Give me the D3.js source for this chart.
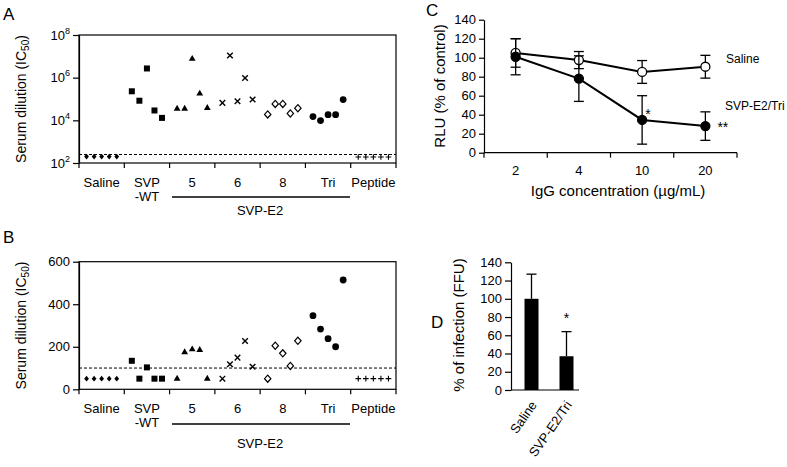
<!DOCTYPE html>
<html>
<head>
<meta charset="utf-8">
<script src="https://cdn.jsdelivr.net/npm/d3@7"></script>
<style>
  body { margin: 0; background: #fff; }
  text { font-family: "Liberation Sans", Arial, sans-serif; fill: #000; }
</style>
</head>
<body>
<div id="chart"></div>
<script>
// ---- data ----
const groups = ["Saline", "SVP-WT", "5", "6", "8", "Tri", "Peptide"];
const groupMarkers = ["diamondSmall", "square", "triangle", "times", "diamondOpen", "circle", "plus"];

// panel A (log scale IC50)
const aSaline = [200, 200, 200, 200, 200];
const aSvpWt = [230000, 83000, 2700000, 29000, 13000];
const aE2n5 = [35000, 35000, 7600000, 180000, 38000];
const aE2n6 = [66000, 11000000, 78000, 970000, 94000];
const aE2n8 = [19000, 59000, 59000, 21000, 37000];
const aE2Tri = [15000, 9700, 18500, 18500, 94000];
const aPeptide = [190, 190, 190, 190, 190];
const aCutoff = 250;
const aTicks = [2, 4, 6, 8]; // exponents

// panel B (linear IC50)
const bSaline = [50, 50, 50, 50, 50];
const bSvpWt = [134, 50, 103, 50, 50];
const bE2n5 = [50, 174, 188, 185, 50];
const bE2n6 = [50, 118, 149, 227, 106];
const bE2n8 = [50, 205, 169, 110, 228];
const bE2Tri = [346, 283, 238, 200, 514];
const bPeptide = [50, 50, 50, 50, 50];
const bCutoff = 100;
const bTicks = [0, 200, 400, 600];

// panel C
const concLabels = ["2", "4", "10", "20"];
const salineMean = [105, 97.5, 85, 90.5];
const salineErr = [15, 9, 12, 12];
const triMean = [101, 78, 34.5, 28];
const triErr = [19, 24, 25.5, 15];
const triStars = ["", "", "*", "**"];

// panel D
const infCats = ["Saline", "SVP-E2/Tri"];
const infMean = [100, 37];
const infErr = [27, 27];
const infStars = ["", "*"];

const W = 787, H = 467;
const svg = d3.select("#chart").append("svg")
  .attr("width", W).attr("height", H)
  .style("background", "#fff");

// marker drawing helper
function drawMarker(g, type, x, y) {
  const t = `translate(${x},${y})`;
  if (type === "square") {
    g.append("path").attr("d", d3.symbol(d3.symbolSquare, 36)()).attr("transform", t).attr("fill", "#000");
  } else if (type === "triangle") {
    g.append("path").attr("d", d3.symbol(d3.symbolTriangle, 20)()).attr("transform", t).attr("fill", "#000");
  } else if (type === "circle") {
    g.append("circle").attr("cx", x).attr("cy", y).attr("r", 3.4).attr("fill", "#000");
  } else if (type === "times") {
    g.append("path").attr("d", d3.symbol(d3.symbolTimes, 22)()).attr("transform", t)
      .attr("fill", "none").attr("stroke", "#000").attr("stroke-width", 1.4);
  } else if (type === "diamondOpen") {
    g.append("path").attr("d", "M0,-3.6L3.2,0L0,3.6L-3.2,0Z").attr("transform", t)
      .attr("fill", "#fff").attr("stroke", "#000").attr("stroke-width", 1.2);
  } else if (type === "diamondSmall") {
    g.append("path").attr("d", "M0,-2.8L2.4,0L0,2.8L-2.4,0Z").attr("transform", t).attr("fill", "#000");
  } else if (type === "plus") {
    g.append("path").attr("d", d3.symbol(d3.symbolPlus, 12)()).attr("transform", t)
      .attr("fill", "none").attr("stroke", "#000").attr("stroke-width", 1.1);
  }
}

// scatter panel (A and B)
function scatterPanel(opt) {
  const g = svg.append("g");
  const x = d3.scaleBand().domain(groups).range([79, 396]);
  const y = opt.y;
  const bw = x.bandwidth();
  const top = y.range()[1], bottom = y.range()[0];

  // frame
  g.append("rect").attr("x", 79).attr("y", top).attr("width", 396 - 79).attr("height", bottom - top)
    .attr("fill", "none").attr("stroke", "#000").attr("stroke-width", 1.2);

  // y axis
  const ay = g.append("g").attr("transform", "translate(79,0)")
    .call(d3.axisLeft(y).tickValues(opt.tickValues).tickSize(6).tickSizeOuter(0).tickFormat(""));
  ay.select(".domain").attr("stroke-width", 1.2);
  ay.selectAll(".tick line").attr("stroke-width", 1.2);
  opt.tickValues.forEach(v => {
    const t = g.append("text").attr("x", 70).attr("y", y(v) + 4.5)
      .attr("text-anchor", "end").attr("font-size", 13);
    if (opt.log) {
      t.append("tspan").text("10");
      t.append("tspan").attr("dy", -6).attr("font-size", 9).text(Math.round(Math.log10(v)));
    } else {
      t.text(v);
    }
  });

  // x group ticks
  d3.range(groups.length + 1).forEach(k => {
    g.append("line").attr("x1", 79 + k * bw).attr("x2", 79 + k * bw)
      .attr("y1", bottom).attr("y2", bottom + 5).attr("stroke", "#000").attr("stroke-width", 1.2);
  });

  // cutoff
  g.append("line").attr("x1", 79).attr("x2", 396).attr("y1", y(opt.cutoff)).attr("y2", y(opt.cutoff))
    .attr("stroke", "#000").attr("stroke-width", 1).attr("stroke-dasharray", "3,2");

  // points
  opt.series.forEach((vals, gi) => {
    vals.forEach((v, i) => {
      drawMarker(g, groupMarkers[gi], x(groups[gi]) + (i + 1) * bw / 6, y(v));
    });
  });

  // group labels
  const ly = bottom + 24;
  groups.forEach(name => {
    const cx = x(name) + bw / 2;
    if (name === "SVP-WT") {
      g.append("text").attr("x", cx).attr("y", ly).attr("text-anchor", "middle").attr("font-size", 13).text("SVP");
      g.append("text").attr("x", cx).attr("y", ly + 13.5).attr("text-anchor", "middle").attr("font-size", 13).text("-WT");
    } else {
      g.append("text").attr("x", cx).attr("y", ly).attr("text-anchor", "middle").attr("font-size", 13).text(name);
    }
  });
  g.append("line").attr("x1", 172).attr("x2", 350).attr("y1", opt.lineY).attr("y2", opt.lineY)
    .attr("stroke", "#000").attr("stroke-width", 1.4);
  g.append("text").attr("x", 260).attr("y", opt.e2Y).attr("text-anchor", "middle").attr("font-size", 13).text("SVP-E2");

  // y label
  const yl = g.append("text").attr("transform", `translate(26,${(top + bottom) / 2}) rotate(-90)`)
    .attr("text-anchor", "middle").attr("font-size", 14);
  yl.append("tspan").text("Serum dilution (IC");
  yl.append("tspan").attr("font-size", 10).attr("dy", 3).text("50");
  yl.append("tspan").attr("dy", -3).text(")");

  // panel letter
  svg.append("text").attr("x", 3).attr("y", opt.letterY).attr("font-size", 17).text(opt.letter);
}

scatterPanel({
  letter: "A", letterY: 20, log: true,
  y: d3.scaleLog().domain([1e2, 1e8]).range([163, 35]),
  tickValues: aTicks.map(e => Math.pow(10, e)),
  cutoff: aCutoff,
  series: [aSaline, aSvpWt, aE2n5, aE2n6, aE2n8, aE2Tri, aPeptide],
  lineY: 197, e2Y: 215
});

scatterPanel({
  letter: "B", letterY: 243, log: false,
  y: d3.scaleLinear().domain([0, 600]).range([389.3, 261.7]),
  tickValues: bTicks,
  cutoff: bCutoff,
  series: [bSaline, bSvpWt, bE2n5, bE2n6, bE2n8, bE2Tri, bPeptide],
  lineY: 424, e2Y: 448
});

// ---- panel C ----
(function () {
  const g = svg.append("g");
  const x = d3.scaleBand().domain(concLabels).range([484, 737]);
  const y = d3.scaleLinear().domain([0, 140]).range([152.7, 19.7]);
  const cx = d => x(d) + x.bandwidth() / 2;

  const ay = g.append("g").attr("transform", "translate(484,0)")
    .call(d3.axisLeft(y).tickValues(d3.range(0, 141, 20)).tickSize(5).tickSizeOuter(0));
  ay.selectAll("text").attr("font-size", 13).attr("font-family", "Liberation Sans, Arial, sans-serif").attr("x", -8);
  ay.select(".domain").attr("stroke-width", 1.2);
  ay.selectAll(".tick line").attr("stroke-width", 1.2);

  g.append("line").attr("x1", 484).attr("x2", 737).attr("y1", y(0)).attr("y2", y(0))
    .attr("stroke", "#000").attr("stroke-width", 1.2);
  d3.range(concLabels.length + 1).forEach(k => {
    const xx = 484 + k * x.bandwidth();
    g.append("line").attr("x1", xx).attr("x2", xx).attr("y1", y(0)).attr("y2", y(0) + 5)
      .attr("stroke", "#000").attr("stroke-width", 1.2);
  });
  concLabels.forEach(c => {
    g.append("text").attr("x", cx(c)).attr("y", 174.5).attr("text-anchor", "middle").attr("font-size", 13).text(c);
  });

  function series(mean, err, fill) {
    mean.forEach((m, i) => {
      const xx = cx(concLabels[i]);
      g.append("line").attr("x1", xx).attr("x2", xx).attr("y1", y(m - err[i])).attr("y2", y(m + err[i]))
        .attr("stroke", "#000").attr("stroke-width", 1.3);
      [m - err[i], m + err[i]].forEach(v => {
        g.append("line").attr("x1", xx - 5).attr("x2", xx + 5).attr("y1", y(v)).attr("y2", y(v))
          .attr("stroke", "#000").attr("stroke-width", 1.3);
      });
    });
    g.append("path").datum(mean)
      .attr("d", d3.line().x((d, i) => cx(concLabels[i])).y(d => y(d)))
      .attr("fill", "none").attr("stroke", "#000").attr("stroke-width", 2);
    mean.forEach((m, i) => {
      g.append("circle").attr("cx", cx(concLabels[i])).attr("cy", y(m)).attr("r", 4.5)
        .attr("fill", fill).attr("stroke", "#000").attr("stroke-width", 1.3);
    });
  }
  series(salineMean, salineErr, "#fff");
  series(triMean, triErr, "#000");

  triStars.forEach((s, i) => {
    if (!s) return;
    const xx = cx(concLabels[i]);
    if (s === "*") {
      g.append("text").attr("x", xx + 3).attr("y", y(triMean[i]) - 1).attr("font-size", 14).text(s);
    } else {
      g.append("text").attr("x", xx + 12).attr("y", y(triMean[i]) + 6).attr("font-size", 14).text(s);
    }
  });

  g.append("text").attr("x", 726).attr("y", 63).attr("font-size", 12).text("Saline");
  g.append("text").attr("x", 725).attr("y", 110).attr("font-size", 12).text("SVP-E2/Tri");

  g.append("text").attr("x", 618).attr("y", 196).attr("text-anchor", "middle").attr("font-size", 15)
    .text("IgG concentration (µg/mL)");
  g.append("text").attr("transform", `translate(445,86) rotate(-90)`).attr("text-anchor", "middle")
    .attr("font-size", 15).text("RLU (% of control)");
  svg.append("text").attr("x", 426).attr("y", 16).attr("font-size", 17).text("C");
})();

// ---- panel D ----
(function () {
  const g = svg.append("g");
  const x = d3.scaleBand().domain(infCats).range([524.5, 573.5]).paddingInner(0.6);
  const y = d3.scaleLinear().domain([0, 140]).range([390, 262.3]);

  const ay = g.append("g").attr("transform", "translate(511,0)")
    .call(d3.axisLeft(y).tickValues(d3.range(0, 141, 20)).tickSize(6).tickSizeOuter(0));
  ay.selectAll("text").attr("font-size", 13).attr("font-family", "Liberation Sans, Arial, sans-serif").attr("x", -9);
  ay.select(".domain").attr("stroke-width", 1.2);
  ay.selectAll(".tick line").attr("stroke-width", 1.2);

  infCats.forEach((c, i) => {
    const xc = x(c) + x.bandwidth() / 2;
    g.append("line").attr("x1", xc).attr("x2", xc).attr("y1", y(infMean[i])).attr("y2", y(infMean[i] + infErr[i]))
      .attr("stroke", "#000").attr("stroke-width", 1.3);
    g.append("line").attr("x1", xc - 5).attr("x2", xc + 5)
      .attr("y1", y(infMean[i] + infErr[i])).attr("y2", y(infMean[i] + infErr[i]))
      .attr("stroke", "#000").attr("stroke-width", 1.3);
    g.append("rect").attr("x", x(c)).attr("y", y(infMean[i])).attr("width", x.bandwidth())
      .attr("height", y(0) - y(infMean[i])).attr("fill", "#000");
    if (infStars[i]) {
      g.append("text").attr("x", xc).attr("y", y(infMean[i] + infErr[i]) - 9).attr("text-anchor", "middle")
        .attr("font-size", 14).text(infStars[i]);
    }
    g.append("text").attr("transform", `translate(${xc + 6},${405}) rotate(-55)`)
      .attr("text-anchor", "end").attr("font-size", 13).text(c);
  });
  g.append("line").attr("x1", 511).attr("x2", 579).attr("y1", y(0)).attr("y2", y(0))
    .attr("stroke", "#000").attr("stroke-width", 1.2);

  g.append("text").attr("transform", `translate(464,325) rotate(-90)`).attr("text-anchor", "middle")
    .attr("font-size", 15).text("% of infection (FFU)");
  svg.append("text").attr("x", 431).attr("y", 328).attr("font-size", 17).text("D");
})();
</script>
</body>
</html>
